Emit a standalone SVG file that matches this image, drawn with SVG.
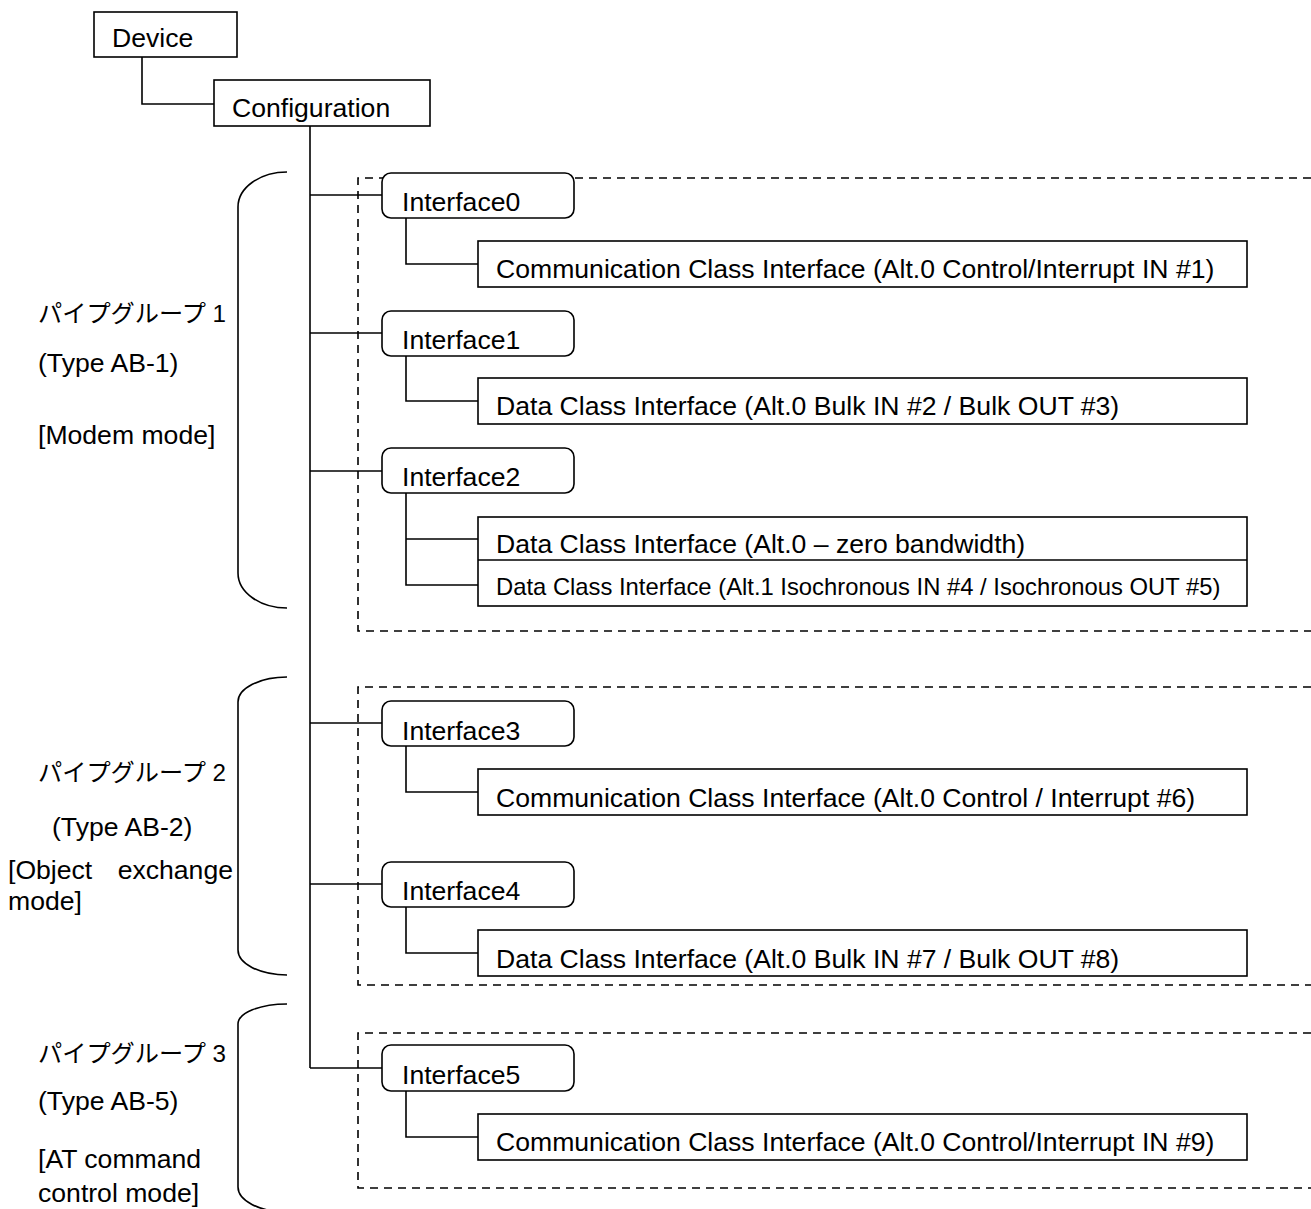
<svg xmlns="http://www.w3.org/2000/svg" width="1311" height="1209" viewBox="0 0 1311 1209">
  <style>
    .box { fill: #fff; stroke: #000; stroke-width: 1.6; }
    .wire { fill: none; stroke: #000; stroke-width: 1.6; }
    .dash { fill: none; stroke: #000; stroke-width: 1.6; stroke-dasharray: 8 6; }
    .brace { fill: none; stroke: #000; stroke-width: 1.6; }
    text { font-family: "Liberation Sans", Arial, "Noto Sans CJK JP", sans-serif; font-size: 26.6px; fill: #000; }
    .small { font-size: 23.8px; }
    .jp { font-family: "Liberation Sans", "Noto Sans CJK JP", sans-serif; font-size: 24.2px; }
  </style>

  <!-- dashed pipe-group frames (open on the right) -->
  <g id="frames">
    <path class="dash" d="M1311,178 H358 V631 H1311"/>
    <path class="dash" d="M1311,687 H358 V985 H1311"/>
    <path class="dash" d="M1311,1033 H358 V1188 H1311"/>
  </g>

  <!-- tree connectors -->
  <g id="connectors">
    <path class="wire" d="M142,57 V104 H214"/>
    <path class="wire" d="M310,126 V1068"/>
    <path class="wire" d="M310,195 H382"/>
    <path class="wire" d="M310,333 H382"/>
    <path class="wire" d="M310,471 H382"/>
    <path class="wire" d="M310,723 H382"/>
    <path class="wire" d="M310,884 H382"/>
    <path class="wire" d="M310,1068 H382"/>
    <path class="wire" d="M406,218 V264 H478"/>
    <path class="wire" d="M406,356 V401 H478"/>
    <path class="wire" d="M406,493 V585 H478 M406,539 H478"/>
    <path class="wire" d="M406,746 V792 H478"/>
    <path class="wire" d="M406,907 V953 H478"/>
    <path class="wire" d="M406,1091 V1137 H478"/>
  </g>

  <!-- group braces -->
  <g id="braces">
    <path class="brace" d="M287,172 A49,35 0 0 0 238,207 V573 A49,35 0 0 0 287,608"/>
    <path class="brace" d="M287,677 A49,25 0 0 0 238,702 V950 A49,25 0 0 0 287,975"/>
    <path class="brace" d="M287,1004 A49,20 0 0 0 238,1024 V1187 A49,25 0 0 0 287,1212"/>
  </g>

  <!-- group labels -->
  <g id="label-group1">
    <text class="jp" x="38" y="322">パイプグループ 1</text>
    <text x="38" y="372">(Type AB-1)</text>
    <text x="38" y="444">[Modem mode]</text>
  </g>
  <g id="label-group2">
    <text class="jp" x="38" y="781">パイプグループ 2</text>
    <text x="52" y="836">(Type AB-2)</text>
    <text x="8" y="879">[Object</text>
    <text x="233" y="879" text-anchor="end">exchange</text>
    <text x="8" y="910">mode]</text>
  </g>
  <g id="label-group3">
    <text class="jp" x="38" y="1062">パイプグループ 3</text>
    <text x="38" y="1110">(Type AB-5)</text>
    <text x="38" y="1168">[AT command</text>
    <text x="38" y="1202">control mode]</text>
  </g>

  <!-- top-level nodes -->
  <g id="device">
    <rect class="box" x="94" y="12" width="143" height="45"/>
    <text x="112" y="47">Device</text>
  </g>
  <g id="configuration">
    <rect class="box" x="214" y="80" width="216" height="46"/>
    <text x="232" y="117">Configuration</text>
  </g>

  <!-- interfaces -->
  <g id="interface0">
    <rect class="box" x="382" y="173" width="192" height="45" rx="9"/>
    <text x="402" y="211">Interface0</text>
  </g>
  <g id="alt-if0">
    <rect class="box" x="478" y="241" width="769" height="46"/>
    <text x="496" y="278">Communication Class Interface (Alt.0 Control/Interrupt IN #1)</text>
  </g>

  <g id="interface1">
    <rect class="box" x="382" y="311" width="192" height="45" rx="9"/>
    <text x="402" y="349">Interface1</text>
  </g>
  <g id="alt-if1">
    <rect class="box" x="478" y="378" width="769" height="46"/>
    <text x="496" y="415">Data Class Interface (Alt.0 Bulk IN #2 / Bulk OUT #3)</text>
  </g>

  <g id="interface2">
    <rect class="box" x="382" y="448" width="192" height="45" rx="9"/>
    <text x="402" y="486">Interface2</text>
  </g>
  <g id="alt-if2">
    <rect class="box" x="478" y="517" width="769" height="89"/>
    <line class="wire" x1="478" y1="560" x2="1247" y2="560"/>
    <text x="496" y="553">Data Class Interface (Alt.0 – zero bandwidth)</text>
    <text class="small" x="496" y="595">Data Class Interface (Alt.1 Isochronous IN #4 / Isochronous OUT #5)</text>
  </g>

  <g id="interface3">
    <rect class="box" x="382" y="701" width="192" height="45" rx="9"/>
    <text x="402" y="740">Interface3</text>
  </g>
  <g id="alt-if3">
    <rect class="box" x="478" y="769" width="769" height="46"/>
    <text x="496" y="807">Communication Class Interface (Alt.0 Control / Interrupt #6)</text>
  </g>

  <g id="interface4">
    <rect class="box" x="382" y="862" width="192" height="45" rx="9"/>
    <text x="402" y="900">Interface4</text>
  </g>
  <g id="alt-if4">
    <rect class="box" x="478" y="930" width="769" height="46"/>
    <text x="496" y="968">Data Class Interface (Alt.0 Bulk IN #7 / Bulk OUT #8)</text>
  </g>

  <g id="interface5">
    <rect class="box" x="382" y="1045" width="192" height="46" rx="9"/>
    <text x="402" y="1084">Interface5</text>
  </g>
  <g id="alt-if5">
    <rect class="box" x="478" y="1114" width="769" height="46"/>
    <text x="496" y="1151">Communication Class Interface (Alt.0 Control/Interrupt IN #9)</text>
  </g>
</svg>
